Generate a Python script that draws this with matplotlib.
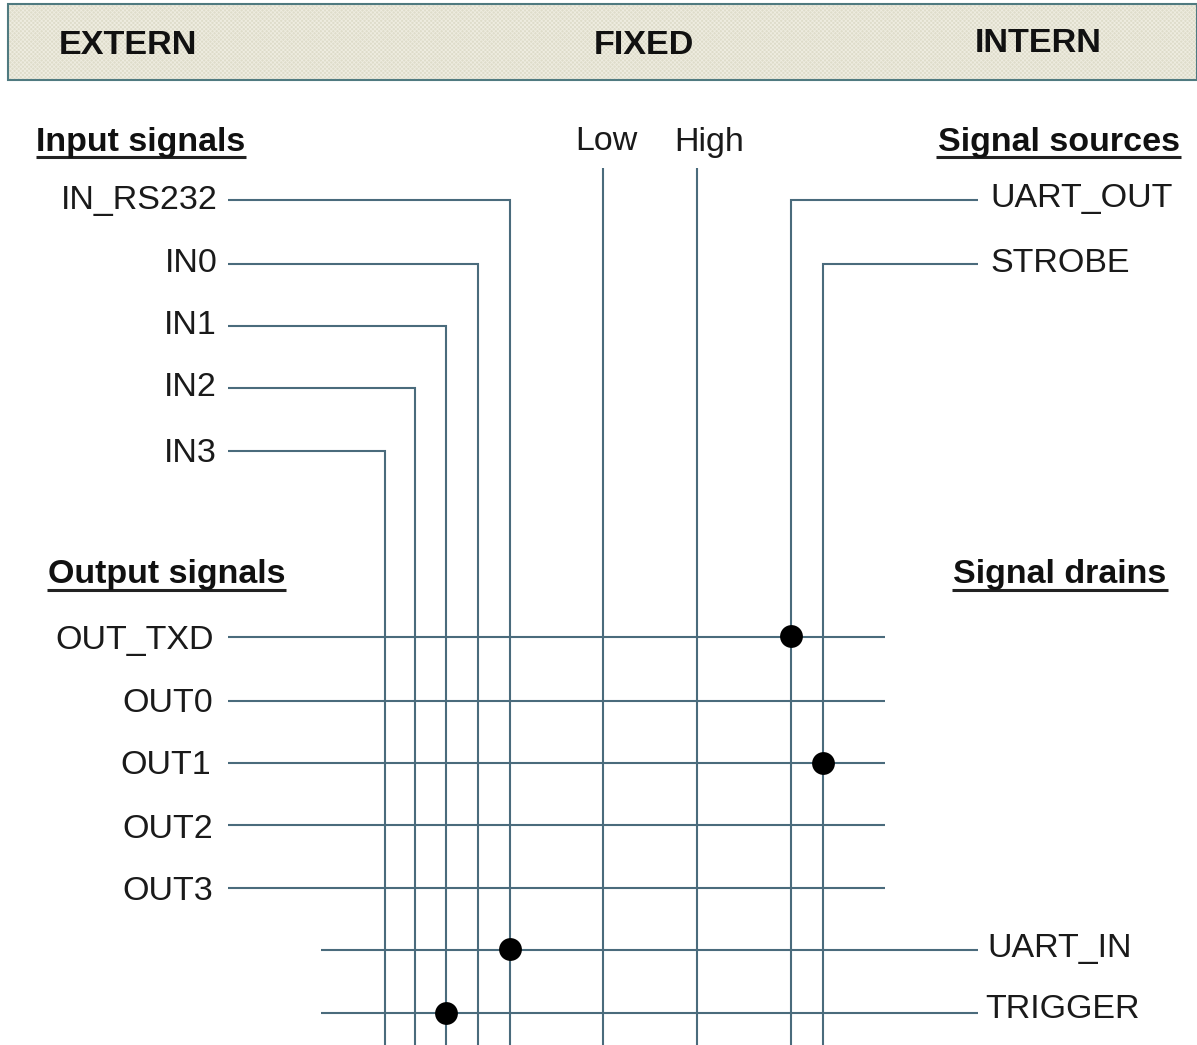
import matplotlib
matplotlib.use("Agg")
import matplotlib.pyplot as plt
from matplotlib.patches import Rectangle

W, H = 1197, 1045
LINE = "#4A6B7C"
plt.rcParams['font.family'] = ['Liberation Sans', 'DejaVu Sans']
plt.rcParams['hatch.linewidth'] = 0.6

# header
header_labels = ["EXTERN", "FIXED", "INTERN"]
header_x = [128, 644, 1038]
header_y = [45, 45, 43]

# group headings: text, left x, right x, centre y, underline y
headings = ["Input signals", "Output signals", "Signal sources", "Signal drains"]
heading_x0 = [36, 47, 936, 952]
heading_x1 = [246, 286, 1181, 1168]
heading_y = [142, 574, 142, 574]
heading_ul = [156.5, 590, 156.5, 590]

# input nets: horizontal stub then vertical run to the bottom
input_names = ["IN_RS232", "IN0", "IN1", "IN2", "IN3"]
input_y = [200, 264, 326, 388, 451]
input_x = [510, 478, 446, 415, 385]
input_text_y = [200, 264, 326, 388, 453]
input_text_r = [218, 218, 217, 217, 217]

# fixed levels
fixed_names = ["Low", "High"]
fixed_x = [603, 697]
fixed_text_x = [606, 709]

# signal sources
source_names = ["UART_OUT", "STROBE"]
source_y = [200, 264]
source_x = [791, 823]
source_text_y = [199, 263]

# output nets
output_names = ["OUT_TXD", "OUT0", "OUT1", "OUT2", "OUT3"]
output_y = [637, 701, 763, 825, 888]
output_text_r = [214, 213, 211, 213, 213]
output_text_y = [640, 703, 766, 829, 891]

# signal drains
drain_names = ["UART_IN", "TRIGGER"]
drain_y = [950, 1013]
drain_text_x = [987, 985]
drain_text_y = [949, 1010]

# connection dots (vertical net x, horizontal net y)
dot_x = [791, 823, 510, 446]
dot_y = [636, 763, 949, 1013]

fig = plt.figure(figsize=(W / 100, H / 100), dpi=100, facecolor="white")
ax = fig.add_axes([0, 0, 1, 1])
ax.set_xlim(0, W)
ax.set_ylim(H, 0)
ax.axis("off")

ax.add_patch(Rectangle((8, 4), 1189, 76, facecolor="#DEDCCA", edgecolor="#EEECE0", lw=0, hatch="xxxxxxxx"))
ax.add_patch(Rectangle((8, 4), 1189, 76, facecolor="none", edgecolor="#4F7A80", lw=1.5))
for s, x, y in zip(header_labels, header_x, header_y):
    ax.text(x, y, s, ha="center", va="center", fontsize=24.6, fontweight="bold", color="#111111")

for s, x0, x1, y, u in zip(headings, heading_x0, heading_x1, heading_y, heading_ul):
    ax.text((x0 + x1) / 2, y, s, ha="center", va="center", fontsize=24.5, fontweight="bold", color="#111111")
    ax.plot([x0, x1], [u, u], color="#222222", lw=2.2, solid_capstyle="butt")

lw = 1.5
kw = dict(color=LINE, lw=lw, solid_capstyle="butt", solid_joinstyle="miter", zorder=2)
tk = dict(fontsize=24.5, color="#1A1A1A", va="center")

for s, y, x, ty, r in zip(input_names, input_y, input_x, input_text_y, input_text_r):
    ax.plot([228, x, x], [y, y, H], **kw)
    ax.text(r, ty, s, ha="right", **tk)

for s, x, tx in zip(fixed_names, fixed_x, fixed_text_x):
    ax.plot([x, x], [168, H], **kw)
    ax.text(tx, 142, s, ha="center", **tk)

for s, y, x, ty in zip(source_names, source_y, source_x, source_text_y):
    ax.plot([978, x, x], [y, y, H], **kw)
    ax.text(990, ty, s, ha="left", **tk)

for s, y, r, ty in zip(output_names, output_y, output_text_r, output_text_y):
    ax.plot([228, 885], [y, y], **kw)
    ax.text(r, ty, s, ha="right", **tk)

for s, y, tx, ty in zip(drain_names, drain_y, drain_text_x, drain_text_y):
    ax.plot([321, 978], [y, y], **kw)
    ax.text(tx, ty, s, ha="left", **tk)

ax.scatter(dot_x, dot_y, s=270, color="black", zorder=3, linewidths=0)

fig.savefig("out.png", dpi=100, facecolor="white")
